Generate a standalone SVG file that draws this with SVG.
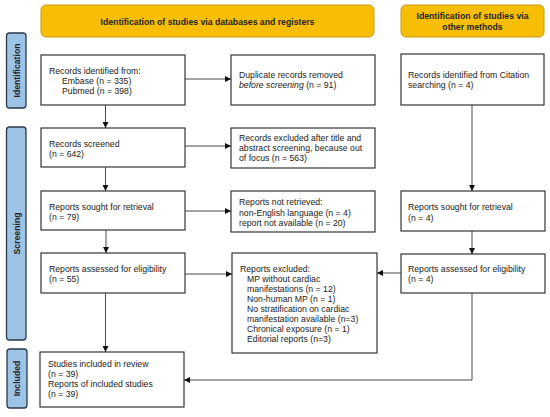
<svg xmlns="http://www.w3.org/2000/svg" width="550" height="417" viewBox="0 0 550 417">
<style>
text{font-family:"Liberation Sans",Arial,sans-serif;font-size:8.7px;fill:#222}
.b{font-weight:bold}
.banner{fill:#F8BE06;stroke:#C99A10;stroke-width:1}
.side{fill:#9DC3E6;stroke:#2B3A4A;stroke-width:1.3}
.box{fill:#fff;stroke:#222;stroke-width:1.1}
.c{fill:none;stroke:#333;stroke-width:0.9}
</style>
<defs>
<marker id="ah" viewBox="0 0 6 6" refX="6" refY="3" markerWidth="6" markerHeight="6" markerUnits="userSpaceOnUse" orient="auto">
<path d="M0,0L6,3L0,6Z" fill="#111"/>
</marker>
</defs>
<rect width="550" height="417" fill="#fff"/>
<g id="banner-db"><rect class="banner" x="41" y="5" width="333" height="32" rx="5"/><text class="b" x="207.5" y="24.5" text-anchor="middle">Identification of studies via databases and registers</text></g>
<g id="banner-other"><rect class="banner" x="401" y="5" width="143" height="32" rx="5"/><text class="b" x="472.5" y="19" text-anchor="middle">Identification of studies via</text><text class="b" x="472.5" y="29.5" text-anchor="middle">other methods</text></g>
<g id="side-identification"><rect class="side" x="6.5" y="33" width="19.5" height="75" rx="3"/><text class="b" transform="translate(19.5,70.5) rotate(-90)" text-anchor="middle">Identification</text></g>
<g id="side-screening"><rect class="side" x="6.5" y="127" width="19.5" height="213" rx="3"/><text class="b" transform="translate(19.5,233.5) rotate(-90)" text-anchor="middle">Screening</text></g>
<g id="side-included"><rect class="side" x="7" y="349" width="20" height="59" rx="3"/><text class="b" transform="translate(20,378.5) rotate(-90)" text-anchor="middle">Included</text></g>
<g id="records-identified"><rect class="box" x="41" y="55" width="144" height="50"/><text x="49" y="74">Records identified from:</text><text x="62" y="84">Embase (n = 335)</text><text x="62" y="93.5">Pubmed (n = 398)</text></g>
<g id="duplicates"><rect class="box" x="231" y="55" width="144" height="50"/><text x="239" y="78">Duplicate records removed</text><text x="239" y="88"><tspan font-style="italic">before screening</tspan> (n = 91)</text></g>
<g id="citation"><rect class="box" x="401" y="54" width="143" height="51"/><text x="408" y="78">Records identified from Citation</text><text x="408" y="88">searching (n = 4)</text></g>
<g id="screened"><rect class="box" x="41" y="128" width="144" height="39"/><text x="49" y="146.5">Records screened</text><text x="49" y="157">(n = 642)</text></g>
<g id="excluded-screen"><rect class="box" x="231" y="128" width="144" height="40"/><text x="239" y="140.5">Records excluded after title and</text><text x="239" y="151">abstract screening, because out</text><text x="239" y="161">of focus (n = 563)</text></g>
<g id="sought-db"><rect class="box" x="41" y="191" width="144" height="39"/><text x="49" y="209.5">Reports sought for retrieval</text><text x="49" y="220">(n = 79)</text></g>
<g id="not-retrieved"><rect class="box" x="231" y="191" width="144" height="41"/><text x="239" y="205">Reports not retrieved:</text><text x="239" y="215.5">non-English language (n = 4)</text><text x="239" y="225.5">report not available (n = 20)</text></g>
<g id="sought-other"><rect class="box" x="401" y="191" width="144" height="40"/><text x="408" y="210">Reports sought for retrieval</text><text x="408" y="221">(n = 4)</text></g>
<g id="assessed-db"><rect class="box" x="41" y="253" width="144" height="40"/><text x="49" y="271.5">Reports assessed for eligibility</text><text x="49" y="281.5">(n = 55)</text></g>
<g id="reports-excluded"><rect class="box" x="232" y="253" width="145" height="100"/><text x="240" y="271.5">Reports excluded:</text><text x="247" y="281.5">MP without cardiac</text><text x="247" y="291.5">manifestations (n = 12)</text><text x="247" y="301.5">Non-human MP (n = 1)</text><text x="247" y="311.5">No stratification on cardiac</text><text x="247" y="321.5">manifestation available (n=3)</text><text x="247" y="331.5">Chronical exposure (n = 1)</text><text x="247" y="341.5">Editorial reports (n=3)</text></g>
<g id="assessed-other"><rect class="box" x="401" y="254" width="144" height="39"/><text x="408" y="271.5">Reports assessed for eligibility</text><text x="408" y="281.5">(n = 4)</text></g>
<g id="included"><rect class="box" x="40" y="352" width="144" height="55"/><text x="48" y="367">Studies included in review</text><text x="48" y="377">(n = 39)</text><text x="48" y="387">Reports of included studies</text><text x="48" y="397">(n = 39)</text></g>
<g id="connectors">
<line class="c" x1="105.5" y1="105" x2="105.5" y2="128" marker-end="url(#ah)"/>
<line class="c" x1="185" y1="79" x2="231" y2="79" marker-end="url(#ah)"/>
<line class="c" x1="185" y1="146" x2="231" y2="146" marker-end="url(#ah)"/>
<line class="c" x1="105.5" y1="167" x2="105.5" y2="191" marker-end="url(#ah)"/>
<line class="c" x1="185" y1="211" x2="231" y2="211" marker-end="url(#ah)"/>
<line class="c" x1="106" y1="230" x2="106" y2="253" marker-end="url(#ah)"/>
<line class="c" x1="185" y1="274" x2="232" y2="274" marker-end="url(#ah)"/>
<line class="c" x1="105.5" y1="293" x2="105.5" y2="352" marker-end="url(#ah)"/>
<line class="c" x1="472" y1="105" x2="472" y2="191" marker-end="url(#ah)"/>
<line class="c" x1="472" y1="231" x2="472" y2="254" marker-end="url(#ah)"/>
<line class="c" x1="401" y1="273" x2="377" y2="273" marker-end="url(#ah)"/>
<polyline class="c" points="472,293 472,380 184,380" marker-end="url(#ah)"/>
</g>
</svg>
